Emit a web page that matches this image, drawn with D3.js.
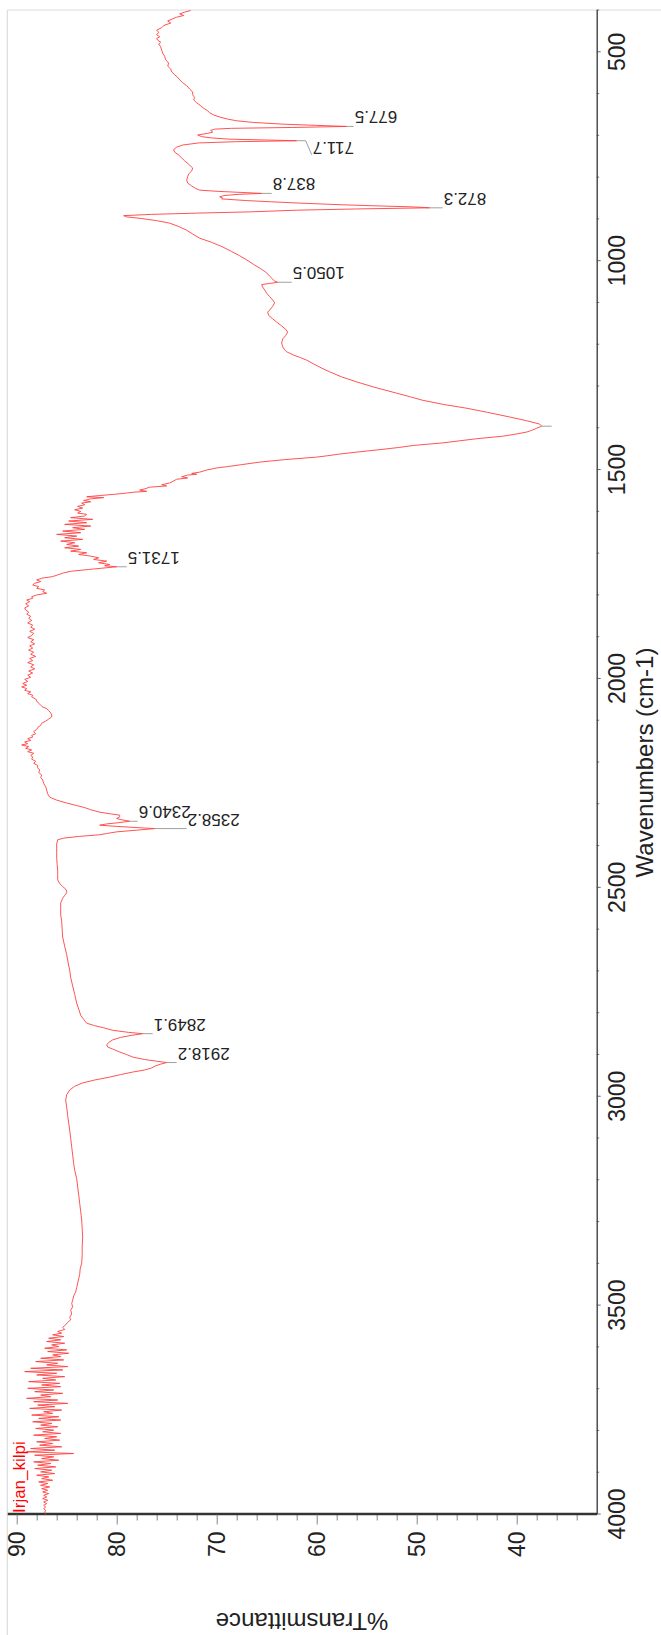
<!DOCTYPE html>
<html><head><meta charset="utf-8">
<script src="https://cdn.jsdelivr.net/npm/d3@7"></script>
<style>
body{margin:0;background:#fff}
svg{display:block}
text{font-family:"Liberation Sans",Arial,Helvetica,sans-serif}
</style>
</head><body>
<svg id="chart" width="661" height="1635"></svg>
<script>
// ---------------- data ----------------
const wavenumber = [
400,404,408,412,416,420,425,430,436,441,447,452,458,463,467,471,476,480,487,495,502,510,518,526,533,540,547,554,560,566,573,580,588,595,602,608,614,621,628,634,640,645,650,655,660,664,668,672,675,677.5,680,682,684,687,691,694,698,702,705,708,710,711.7,714,717,722,727,733,739,746,753,760,768,777,784,791,798,806,813,820,826,830,833,835.5,837.8,840,843,846,849,851,855,858,861,865,868,870,872.3,875,878,882,885,888,891,894,898,903,909,917,926,935,945,955,966,977,987,997,1008,1018,1028,1036,1043,1048,1050.5,1053,1056,1062,1069,1077,1085,1093,1100,1108,1117,1122,1130,1138,1146,1155,1163,1170,1178,1186,1196,1205,1212,1217,1225,1231,1237,1246,1256,1265,1277,1289,1302,1316,1325,1333,1343,1352,1362,1373,1382,1390,1395,1400,1405,1409,1414,1419,1425,1430,1435,1441,1446,1452,1457,1462,1466,1469,1475,1481,1487,1492,1495,1500,1505,1508,1510,1512,1516,1519,1522,1526,1531,1535,1538,1541,1545,1548,1551,1553,1555,1558,1561,1564,1566,1569,1573,1576,1579,1583,1587,1591,1595,1599,1603,1606,
1610,1614,1618,1622,1626,1630,1634,1638,1642,1646,1650,1654,1658,1662,1666,1670,1674,1678,1682,1686,1690,1694,1698,1702,1706,1710,1714,1718,1722,1726,1729,1731.5,1735,1738,1742,1746,1751,1755,1759,1763,1767,1771,1775,1779,1783,1787,1791,1795,1799,1803,1807,1811,1815,1820,1825,1830,1835,1840,1845,1850,1855,1860,1866,1871,1876,1881,1886,1891,1896,1901,1906,1911,1916,1921,1926,1931,1936,1941,1946,1951,1956,1961,1966,1971,1976,1981,1986,1991,1996,2001,2006,2011,2015,2019,2023,2027,2031,2035,2039,2043,2048,2053,2058,2063,2067,2071,2076,2081,2086,2091,2096,2101,2106,2111,2116,2121,2126,2131,2135,2139,2143,2147,2151,2155,2158,2162,2166,2170,2174,2178,2183,2187,2192,2197,2202,2207,2213,2218,2224,2230,2236,2242,2250,2258,2266,2275,2283,2290,2297,2303,2308,2313,2319,2323,2326,2330,2334,2337,2340.6,2344,2347,2350,2353,2356,2358.2,2362,2366,2370,2373,2377,2381,2385,2395,2405,2416,2430,2445,2460,2470,2481,2490,2497,2503,2508,2512,2518,2525,2536,2550,2565,2580,2600,2618,2640,2660,2680,2697,2715,2735,2755,2776,2790,2805,2815,2824,2830,2835,2841,2846,2849.1,2853,2858,2864,2870,2876,2881,2887,2893,2899,2905,2911,2915,2918.2,2922,2926,2931,2936,2941,2947,2953,2960,2967,2975,2984,2995,3008,3025,3045,3063,3080,3100,3120,3140,3160,3176,3196,3216,3235,3255,3275,3295,3316,3336,3357,3378,3398,3412,3425,3436,3446,3457,3467,3477,3487,3495,3503,3511,3520,3528,3534,3540,3546,3552,3557,3562,3566,3570,
3574,3578,3582,3586,3590,3594,3598,3602,3606,3610,3614,3618,3622,3626,3630,3634,3638,3642,3646,3650,3654,3658,3662,3666,3670,3674,3678,3682,3686,3690,3694,3698,3702,3706,3710,3714,3718,3722,3726,3730,3734,3738,3742,3746,3750,3754,3758,3762,3766,3770,3774,3778,3782,3786,3790,3794,3798,3802,3806,3810,3814,3818,3822,3826,3830,3834,3838,3842,3846,3850,3854,3858,3862,3866,3870,3874,3878,3882,3886,3890,3894,3898,3902,3906,3910,3914,3918,3922,3926,3930,3934,3938,3942,3946,3950,3954,3958,3962,3966,3970,3974,3978,3982,3986,3990,3994,3998,4000
];
const transmittance = [
72.6,73.2,73.7,73.3,74.0,74.4,74.9,74.6,75.3,75.5,76.0,75.8,76.0,75.7,76.0,75.9,75.6,75.8,75.6,75.5,75.4,75.2,75.1,74.8,74.9,74.6,74.5,74.2,73.9,73.7,73.4,73.0,72.7,72.4,72.4,72.2,72.3,72.0,71.6,71.3,70.9,70.7,70.3,69.7,68.9,68.0,66.3,63.4,60.0,57.0,62.5,68.5,70.2,70.6,70.4,70.9,71.9,71.5,70.5,68.7,65.0,62.0,68.0,71.8,73.4,74.0,74.3,74.2,73.8,73.5,73.2,72.8,72.4,72.5,72.8,72.9,73.0,72.9,72.5,72.1,71.7,69.8,67.5,65.5,67.8,69.3,69.7,69.4,69.5,67.0,64.5,61.7,57.5,53.5,50.5,48.7,56.0,62.0,66.7,72.0,76.5,79.3,79.0,77.5,76.0,74.7,73.8,73.0,72.4,71.7,70.5,69.4,68.5,67.7,67.0,66.3,65.6,65.0,64.7,64.4,64.2,63.9,64.6,65.5,65.4,65.2,65.0,64.7,64.4,64.2,64.4,64.7,64.9,64.8,64.4,64.0,63.5,63.1,62.9,63.1,63.4,63.5,63.4,63.2,63.0,62.3,61.6,61.0,60.3,59.5,58.7,57.5,56.0,54.2,52.0,50.6,49.4,47.3,45.0,42.9,40.7,39.0,37.7,37.5,38.0,38.5,39.0,40.1,41.4,44.0,45.7,47.4,50.3,51.8,54.0,56.0,57.8,59.0,60.0,63.2,65.7,67.5,69.0,70.0,71.0,71.7,72.5,72.0,72.9,73.5,72.9,74.0,74.3,74.7,75.5,75.0,76.7,77.2,77.7,77.0,78.3,79.0,80.2,81.7,83.0,81.3,82.6,83.3,82.6,83.5,83.2,83.9,83.4,84.2,83.6,83.9,83.0,
83.2,84.6,82.4,84.8,83.0,85.2,82.6,84.4,83.2,85.4,83.6,86.0,84.0,85.2,83.4,85.6,84.2,85.0,83.8,85.2,83.6,84.6,83.0,83.8,82.6,81.8,82.3,81.0,81.8,80.7,81.2,80.0,81.5,82.8,84.5,85.3,85.9,86.4,87.5,88.0,87.6,88.2,88.4,87.8,88.0,87.2,87.4,87.0,88.0,88.5,88.4,89.0,88.7,89.1,88.8,89.2,89.1,88.8,89.0,88.6,88.8,88.5,88.9,88.4,88.6,88.2,88.7,88.3,88.5,88.9,88.3,88.6,88.2,88.7,88.4,88.8,88.3,88.6,88.1,88.7,88.4,88.9,88.3,88.6,88.2,88.8,88.4,88.9,88.6,89.2,88.9,89.4,89.0,89.5,89.0,89.2,88.6,88.9,88.4,88.5,88.1,88.0,87.8,87.6,87.4,87.0,86.8,86.6,86.5,86.5,86.8,87.1,87.5,87.6,87.9,88.0,88.3,88.1,88.5,88.4,88.9,88.6,89.2,88.9,89.5,88.8,89.1,88.5,88.9,88.3,88.6,88.4,88.5,88.1,88.3,87.9,87.9,87.7,87.8,87.5,87.6,87.4,87.3,87.1,87.0,86.9,86.7,86.0,85.0,84.0,83.2,82.6,81.7,80.6,79.7,79.7,80.0,79.5,78.7,79.8,81.0,81.7,80.0,77.8,76.2,78.0,80.0,81.0,81.7,83.8,85.3,85.9,86.0,86.0,86.0,86.0,85.95,85.9,85.9,85.9,85.7,85.4,85.1,85.0,85.0,85.2,85.4,85.6,85.6,85.6,85.5,85.45,85.4,85.2,85.0,84.85,84.7,84.6,84.4,84.2,84.0,83.8,83.6,83.3,83.0,82.2,81.3,80.4,78.8,77.4,78.5,79.6,80.4,80.8,81.0,80.9,80.3,79.7,79.0,78.4,77.2,76.0,75.0,75.6,76.1,76.5,77.2,78.4,79.6,80.7,82.2,83.4,84.2,84.7,85.0,85.1,85.0,84.9,84.8,84.7,84.6,84.5,84.4,84.3,84.2,84.0,83.9,83.8,83.7,83.6,83.5,83.45,83.4,83.45,83.45,83.5,83.65,83.7,83.8,83.9,84.0,84.1,84.3,84.4,84.5,84.4,84.6,84.5,84.7,84.6,84.9,85.1,85.4,85.2,85.9,85.5,86.4,
85.3,86.8,85.6,87.0,85.2,86.5,85.8,87.2,85.0,86.9,84.8,86.4,85.6,87.6,85.3,88.1,85.9,87.0,84.9,88.6,85.4,89.2,86.0,88.0,85.2,87.4,86.1,88.8,85.7,87.5,85.6,88.9,86.3,88.2,85.4,87.6,86.6,89.0,85.9,88.3,84.9,87.9,86.2,88.7,85.5,87.3,86.4,88.5,85.8,87.8,85.6,88.4,86.5,87.6,85.9,88.1,86.3,87.4,85.6,88.3,86.0,87.2,85.7,88.0,86.4,87.7,85.5,88.6,86.2,89.0,84.3,88.2,86.3,87.5,85.8,88.3,86.6,87.9,86.1,88.2,86.5,87.6,86.2,88.0,86.8,87.5,86.4,87.8,86.9,87.6,86.7,87.5,86.9,87.4,86.8,87.3,87.0,87.4,86.9,87.3,87.0,87.3,87.1,87.3,87.1,87.2,87.1,87.2
];
const peakWavenumbers = [677.5, 711.7, 837.8, 872.3, 1050.5, 1731.5, 2340.6, 2358.2, 2849.1, 2918.2];
const peakLabels = ["677.5", "711.7", "837.8", "872.3", "1050.5", "1731.5", "2340.6", "2358.2", "2849.1", "2918.2"];
const unlabeledPeaks = [1395];
const wavenumberTicks = [500, 1000, 1500, 2000, 2500, 3000, 3500, 4000];
const transmittanceTicks = [40, 50, 60, 70, 80, 90];
const legendName = "Irjan_kilpi";
const xTitle = "Wavenumbers (cm-1)";
const yTitle = "%Transmittance";

// -------------- layout (landscape frame, then rotated) --------------
const W = 1635, H = 661;
const leaderLen = [7, 9, 10, 13, 14, 10, 8, 32, 10, 10];
const labelShift = [0, -16, 0, 0, 0, 0, 0, 0, 0, 0];

const svg = d3.select("#chart");
const g = svg.append("g").attr("transform", `translate(0,${W}) rotate(-90)`);

const x = d3.scaleLinear().domain([4000, 400]).range([120.5, 1624.5]);
const y = d3.scaleLinear().domain([32, 90.94]).range([596.7, 7.3]);

// outer light frame lines
g.append("line").attr("x1", 0).attr("x2", 1625).attr("y1", 7.3).attr("y2", 7.3)
  .attr("stroke", "#dcdcdc").attr("stroke-width", 1.2);
g.append("line").attr("x1", 1625).attr("x2", 1625).attr("y1", 7.3).attr("y2", H)
  .attr("stroke", "#dcdcdc").attr("stroke-width", 1.2);

// minor ticks
const wMinor = d3.range(400, 4001, 100).filter(v => v % 500 !== 0);
const tMinor = d3.range(34, 90, 2).filter(v => v % 10 !== 0);

g.append("g").attr("transform", "translate(0,596.7)")
  .call(d3.axisBottom(x).tickValues(wMinor).tickSize(2.5).tickFormat("").tickSizeOuter(0))
  .call(a => a.select(".domain").remove())
  .call(a => a.selectAll("line").attr("stroke", "#555").attr("stroke-width", 0.8));
g.append("g").attr("transform", "translate(120.5,0)")
  .call(d3.axisLeft(y).tickValues(tMinor).tickSize(6).tickFormat("").tickSizeOuter(0))
  .call(a => a.select(".domain").remove())
  .call(a => a.selectAll("line").attr("stroke", "#777").attr("stroke-width", 0.9));

// major axes
const xAxis = g.append("g").attr("transform", "translate(0,596.7)")
  .call(d3.axisBottom(x).tickValues(wavenumberTicks).tickSize(4).tickPadding(7.5).tickSizeOuter(0).tickFormat(d3.format("d")));
xAxis.select(".domain").attr("stroke", "#333").attr("stroke-width", 1.3);
xAxis.selectAll(".tick line").attr("stroke", "#555").attr("stroke-width", 0.9);
xAxis.selectAll("text").attr("font-size", 23).attr("fill", "#222")
  .attr("font-family", "Liberation Sans, Arial, sans-serif");

const yAxis = g.append("g").attr("transform", "translate(120.5,0)")
  .call(d3.axisLeft(y).tickValues(transmittanceTicks).tickSize(10).tickPadding(7).tickSizeOuter(0).tickFormat(d3.format("d")));
yAxis.select(".domain").attr("stroke", "#333").attr("stroke-width", 2.6);
yAxis.selectAll(".tick line").attr("stroke", "#777").attr("stroke-width", 0.9);
yAxis.selectAll("text").attr("font-size", 23).attr("fill", "#222")
  .attr("font-family", "Liberation Sans, Arial, sans-serif");

// spectrum
const series = wavenumber.map((w, i) => ({ w, t: transmittance[i] }));
g.append("path").datum(series)
  .attr("fill", "none").attr("stroke", "#ff4040").attr("stroke-width", 0.9)
  .attr("stroke-linejoin", "round")
  .attr("d", d3.line().x(d => x(d.w)).y(d => y(d.t)));

// peak markers
function tipOf(w) {
  const i = d3.minIndex(series, d => Math.abs(d.w - w));
  return series[i];
}
const peaksG = g.append("g");
peakWavenumbers.forEach((w, i) => {
  const p = tipOf(w);
  const px = x(p.w), py = y(p.t);
  const L = leaderLen[i], s = labelShift[i];
  let dPath = `M${px},${py}V${py + L}`;
  if (s !== 0) dPath += `L${px + s + 2},${py + L + 6}`;
  peaksG.append("path").attr("d", dPath).attr("fill", "none")
    .attr("stroke", "#a0a0a0").attr("stroke-width", 1);
  const bx = s !== 0 ? px + s + 15 : px + 15;
  const by = s !== 0 ? py + L + 7 : py + L + 1;
  peaksG.append("text")
    .attr("transform", `translate(${bx},${by}) rotate(-90)`)
    .attr("text-anchor", "end")
    .attr("font-size", 17).attr("fill", "#222")
    .text(peakLabels[i]);
});
unlabeledPeaks.forEach(w => {
  const p = tipOf(w);
  peaksG.append("path").attr("d", `M${x(p.w)},${y(p.t)}V${y(p.t) + 10}`)
    .attr("stroke", "#a0a0a0").attr("stroke-width", 1);
});

// titles
g.append("text").attr("x", 872.5).attr("y", 653).attr("text-anchor", "middle")
  .attr("font-size", 24).attr("fill", "#222").text(xTitle);
g.append("text").attr("transform", "translate(22,302) rotate(-90)")
  .attr("text-anchor", "middle").attr("font-size", 24).attr("fill", "#222").text(yTitle);

// legend name
g.append("text").attr("x", 122).attr("y", 24.5).attr("font-size", 17)
  .attr("fill", "#ff0000").text(legendName);
</script>
</body></html>
